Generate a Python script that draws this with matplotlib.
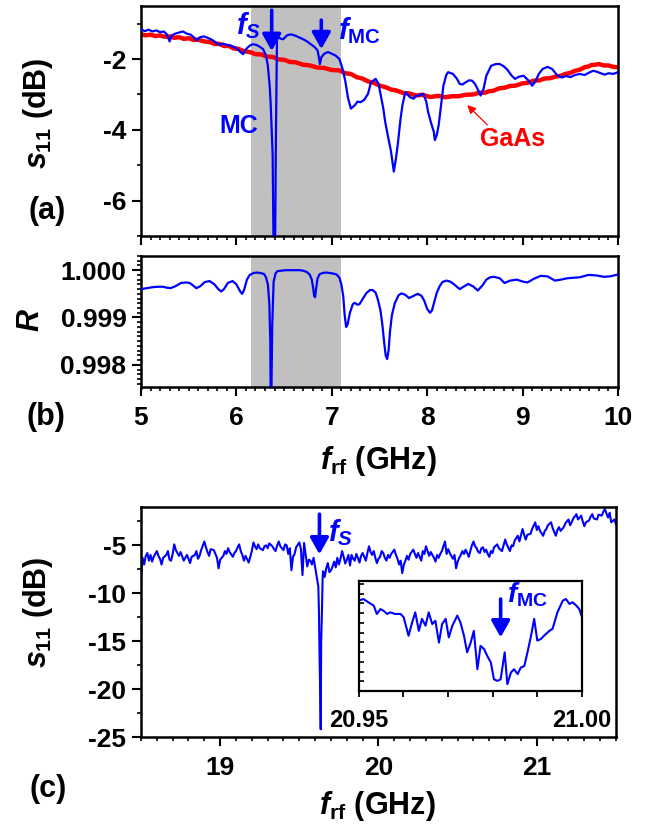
import matplotlib
matplotlib.use("Agg")
import matplotlib.pyplot as plt
from matplotlib.ticker import MultipleLocator, FixedLocator, FormatStrFormatter, NullFormatter

plt.rcParams['font.family'] = ['Liberation Sans', 'DejaVu Sans']
plt.rcParams['font.weight'] = 'bold'
plt.rcParams['axes.unicode_minus'] = False
plt.rcParams['mathtext.fontset'] = 'custom'
plt.rcParams['mathtext.rm'] = 'Liberation Sans:bold'
plt.rcParams['mathtext.bf'] = 'Liberation Sans:bold'
plt.rcParams['mathtext.it'] = 'Liberation Sans:italic:bold'
plt.rcParams['mathtext.sf'] = 'Liberation Sans:bold'

BLUE = '#0000FF'
RED = '#FF0000'
GRAY = '#C0C0C0'

# ---------------- data ----------------
# panel (a): s11 of the microcavity (MC) sample, 5-10 GHz
mc_s11 = [(5.00,-1.16),(5.04,-1.21),(5.08,-1.17),(5.12,-1.22),(5.16,-1.19),(5.20,-1.24),(5.24,-1.22),
          (5.27,-1.30),(5.30,-1.50),(5.32,-1.34),(5.36,-1.28),(5.40,-1.25),(5.44,-1.22),(5.48,-1.28),
          (5.52,-1.31),(5.56,-1.40),(5.58,-1.47),(5.62,-1.38),(5.66,-1.36),(5.70,-1.40),(5.74,-1.45),
          (5.78,-1.52),(5.82,-1.60),(5.86,-1.56),(5.90,-1.60),(5.94,-1.62),(5.98,-1.66),(6.02,-1.74),
          (6.05,-1.82),(6.07,-1.86),(6.10,-1.72),(6.14,-1.62),(6.17,-1.58),(6.21,-1.60),(6.25,-1.66),
          (6.28,-1.72),(6.31,-1.90),(6.33,-2.19),(6.35,-2.80),(6.36,-3.31),(6.37,-4.00),(6.38,-4.72),
          (6.385,-6.00),(6.39,-7.50),(6.405,-7.50),(6.415,-4.00),(6.425,-1.50),(6.43,-1.35),(6.46,-1.42),
          (6.49,-1.44),(6.53,-1.33),(6.57,-1.30),(6.61,-1.33),(6.65,-1.38),(6.70,-1.44),(6.74,-1.50),
          (6.78,-1.58),(6.82,-1.66),(6.85,-1.75),(6.865,-1.95),(6.875,-2.14),(6.89,-1.95),(6.92,-1.85),
          (6.96,-1.80),(7.00,-1.85),(7.04,-1.90),(7.08,-2.00),(7.11,-2.25),(7.14,-2.60),(7.17,-3.10),
          (7.20,-3.40),(7.24,-3.31),(7.27,-3.20),(7.30,-3.22),(7.34,-3.15),(7.38,-2.98),(7.41,-2.66),
          (7.46,-2.56),(7.49,-2.70),(7.51,-2.98),(7.54,-3.40),(7.56,-3.78),(7.59,-4.20),(7.62,-4.60),
          (7.65,-5.18),(7.67,-4.85),(7.69,-4.45),(7.72,-3.70),(7.74,-3.31),(7.77,-2.94),(7.80,-3.02),
          (7.82,-3.08),(7.86,-3.12),(7.88,-3.04),(7.91,-3.03),(7.96,-2.98),(7.99,-3.20),(8.01,-3.50),
          (8.04,-3.80),(8.07,-4.06),(8.08,-4.29),(8.10,-4.15),(8.12,-3.87),(8.15,-3.20),(8.17,-2.75),
          (8.20,-2.45),(8.22,-2.37),(8.27,-2.42),(8.31,-2.55),(8.34,-2.70),(8.37,-2.72),(8.40,-2.66),
          (8.44,-2.60),(8.47,-2.61),(8.50,-2.70),(8.52,-2.80),(8.56,-3.03),(8.59,-2.85),(8.62,-2.47),
          (8.67,-2.19),(8.72,-2.14),(8.76,-2.14),(8.80,-2.20),(8.84,-2.30),(8.88,-2.45),(8.92,-2.56),
          (8.96,-2.50),(9.01,-2.47),(9.06,-2.60),(9.10,-2.75),(9.13,-2.65),(9.17,-2.42),(9.21,-2.28),
          (9.26,-2.22),(9.31,-2.28),(9.36,-2.45),(9.41,-2.52),(9.46,-2.48),(9.50,-2.51),(9.55,-2.45),
          (9.60,-2.42),(9.65,-2.45),(9.70,-2.38),(9.74,-2.33),(9.78,-2.36),(9.82,-2.40),(9.86,-2.44),
          (9.90,-2.40),(9.95,-2.42),(10.00,-2.37)]

# panel (a): s11 of the bare GaAs reference
gaas_s11 = [(5.00,-1.30),(5.05,-1.33),(5.10,-1.31),(5.15,-1.35),(5.20,-1.33),(5.25,-1.37),(5.30,-1.36),
            (5.35,-1.40),(5.40,-1.38),(5.45,-1.43),(5.50,-1.41),(5.55,-1.46),(5.60,-1.45),(5.66,-1.50),
            (5.72,-1.52),(5.77,-1.57),(5.82,-1.57),(5.87,-1.63),(5.92,-1.63),(5.97,-1.70),(6.02,-1.71),
            (6.08,-1.78),(6.14,-1.80),(6.20,-1.86),(6.26,-1.87),(6.32,-1.93),(6.38,-1.94),(6.44,-2.01),
            (6.50,-2.02),(6.56,-2.08),(6.62,-2.09),(6.70,-2.16),(6.77,-2.18),(6.85,-2.24),(6.92,-2.25),
            (7.00,-2.31),(7.08,-2.32),(7.14,-2.40),(7.20,-2.42),(7.26,-2.51),(7.32,-2.55),(7.38,-2.63),
            (7.44,-2.67),(7.50,-2.75),(7.56,-2.79),(7.62,-2.86),(7.68,-2.89),(7.75,-2.96),(7.81,-2.97),
            (7.88,-3.03),(7.95,-3.01),(8.03,-3.07),(8.12,-3.04),(8.19,-3.08),(8.26,-3.05),(8.33,-3.05),
            (8.40,-3.01),(8.48,-3.00),(8.55,-2.95),(8.60,-2.95),(8.65,-2.91),(8.70,-2.89),(8.75,-2.83),
            (8.81,-2.81),(8.87,-2.76),(8.93,-2.75),(8.99,-2.69),(9.05,-2.67),(9.12,-2.61),(9.18,-2.60),
            (9.23,-2.55),(9.29,-2.54),(9.34,-2.50),(9.40,-2.47),(9.45,-2.42),(9.50,-2.39),(9.55,-2.33),
            (9.60,-2.30),(9.65,-2.23),(9.69,-2.21),(9.72,-2.17),(9.76,-2.16),(9.80,-2.14),(9.85,-2.18),
            (9.90,-2.18),(9.95,-2.22),(10.00,-2.23)]

# panel (b): reflectance R
refl = [(5.00,0.99960),(5.06,0.99962),(5.12,0.99964),(5.18,0.99965),(5.23,0.99965),(5.27,0.99963),
        (5.31,0.99962),(5.36,0.99966),(5.42,0.99973),(5.47,0.99974),(5.51,0.99973),(5.55,0.99967),
        (5.58,0.99962),(5.62,0.99966),(5.67,0.99975),(5.72,0.99977),(5.77,0.99970),(5.81,0.99960),
        (5.84,0.99955),(5.87,0.99960),(5.91,0.99973),(5.96,0.99977),(6.00,0.99970),(6.04,0.99955),
        (6.06,0.99950),(6.08,0.99958),(6.11,0.99980),(6.14,0.99990),(6.18,0.99994),(6.21,0.99995),
        (6.25,0.99994),(6.29,0.99992),(6.31,0.99985),(6.33,0.99970),(6.345,0.99930),(6.355,0.99850),
        (6.36,0.99700),(6.365,0.99700),(6.375,0.99880),(6.39,0.99975),(6.41,0.99993),(6.43,0.99998),
        (6.47,0.99999),(6.52,1.00000),(6.56,1.00000),(6.61,1.00000),(6.66,1.00000),(6.70,0.99999),
        (6.74,0.99996),(6.77,0.99990),(6.79,0.99980),(6.805,0.99962),(6.815,0.99945),(6.825,0.99943),
        (6.835,0.99960),(6.85,0.99982),(6.87,0.99991),(6.90,0.99994),(6.94,0.99995),(6.98,0.99994),
        (7.01,0.99993),(7.05,0.99991),(7.08,0.99984),(7.10,0.99970),(7.12,0.99945),(7.135,0.99905),
        (7.15,0.99880),(7.165,0.99885),(7.19,0.99910),(7.22,0.99928),(7.24,0.99931),(7.27,0.99927),
        (7.29,0.99928),(7.32,0.99938),(7.36,0.99951),(7.40,0.99958),(7.43,0.99958),(7.46,0.99952),
        (7.48,0.99940),(7.51,0.99915),(7.53,0.99885),(7.55,0.99845),(7.565,0.99820),(7.58,0.99812),
        (7.595,0.99830),(7.61,0.99870),(7.63,0.99905),(7.66,0.99930),(7.70,0.99947),(7.73,0.99951),
        (7.77,0.99948),(7.81,0.99941),(7.85,0.99945),(7.90,0.99950),(7.94,0.99946),(7.97,0.99935),
        (8.00,0.99918),(8.03,0.99910),(8.05,0.99915),(8.07,0.99930),(8.10,0.99952),(8.13,0.99966),
        (8.16,0.99975),(8.20,0.99978),(8.24,0.99976),(8.27,0.99972),(8.31,0.99965),(8.34,0.99960),
        (8.38,0.99965),(8.43,0.99971),(8.48,0.99966),(8.53,0.99957),(8.58,0.99968),(8.62,0.99980),
        (8.66,0.99985),(8.70,0.99986),(8.76,0.99983),(8.81,0.99973),(8.87,0.99978),(8.94,0.99980),
        (9.00,0.99976),(9.05,0.99974),(9.12,0.99982),(9.19,0.99988),(9.26,0.99987),(9.34,0.99978),
        (9.40,0.99980),(9.47,0.99983),(9.53,0.99984),(9.60,0.99985),(9.69,0.99990),(9.77,0.99989),
        (9.85,0.99986),(9.92,0.99987),(10.00,0.99991)]

# panel (c): s11, 18.5-21.5 GHz
hf_s11 = [(18.50,-8.4),(18.51,-6.3),(18.52,-7.0),(18.53,-6.1),(18.54,-5.8),(18.55,-6.6),(18.56,-6.0),
          (18.57,-6.7),(18.58,-6.2),(18.60,-5.6),(18.61,-6.1),(18.62,-6.4),(18.63,-7.0),(18.64,-6.3),
          (18.66,-6.0),(18.67,-5.6),(18.68,-6.5),(18.69,-6.6),(18.70,-5.9),(18.71,-4.9),(18.72,-5.5),
          (18.73,-5.8),(18.74,-6.1),(18.75,-5.7),(18.77,-6.6),(18.78,-6.3),(18.79,-6.0),(18.80,-6.4),
          (18.81,-6.85),(18.82,-6.2),(18.84,-6.0),(18.85,-5.6),(18.86,-6.4),(18.87,-6.1),(18.88,-5.5),
          (18.90,-4.6),(18.91,-5.2),(18.92,-5.7),(18.93,-6.1),(18.94,-5.4),(18.96,-5.5),(18.97,-5.9),
          (18.98,-6.3),(18.99,-7.4),(19.00,-6.5),(19.02,-6.1),(19.03,-5.6),(19.04,-5.9),(19.05,-5.3),
          (19.06,-5.7),(19.08,-6.2),(19.09,-5.8),(19.10,-5.6),(19.11,-5.2),(19.12,-4.9),(19.13,-5.6),
          (19.14,-6.0),(19.15,-6.6),(19.16,-6.1),(19.18,-6.8),(19.19,-6.2),(19.20,-5.6),(19.21,-4.7),
          (19.22,-5.1),(19.23,-5.4),(19.24,-4.9),(19.25,-5.3),(19.27,-5.5),(19.28,-5.1),(19.29,-5.0),
          (19.30,-5.3),(19.31,-4.8),(19.33,-5.1),(19.34,-5.4),(19.35,-5.6),(19.36,-5.0),(19.37,-4.6),
          (19.38,-5.1),(19.40,-5.5),(19.41,-4.9),(19.42,-5.0),(19.43,-5.9),(19.44,-5.3),(19.45,-7.6),
          (19.46,-6.2),(19.47,-5.9),(19.48,-5.2),(19.50,-4.7),(19.51,-5.4),(19.52,-8.1),(19.53,-4.75),
          (19.54,-6.0),(19.55,-7.2),(19.56,-6.5),(19.57,-6.6),(19.58,-7.0),(19.59,-6.3),(19.60,-7.3),
          (19.61,-8.25),(19.620,-9.3),(19.624,-12.0),(19.628,-17.0),(19.632,-20.5),
          (19.635,-24.2),(19.638,-15.0),(19.642,-12.5),(19.647,-8.5),(19.65,-7.7),(19.66,-8.3),
          (19.67,-7.4),(19.68,-6.85),(19.69,-7.8),(19.70,-7.6),(19.71,-7.2),(19.72,-6.7),(19.73,-7.3),
          (19.74,-6.3),(19.75,-7.0),(19.76,-6.4),(19.77,-5.6),(19.78,-6.2),(19.79,-6.9),(19.80,-6.5),
          (19.81,-6.0),(19.82,-7.1),(19.83,-6.0),(19.84,-6.4),(19.85,-6.6),(19.86,-5.9),(19.87,-6.3),
          (19.88,-6.8),(19.89,-6.1),(19.90,-5.8),(19.91,-6.2),(19.92,-6.6),(19.93,-5.8),(19.94,-5.1),
          (19.95,-5.7),(19.96,-6.0),(19.97,-5.6),(19.98,-6.3),(19.99,-6.85),(20.00,-6.4),(20.01,-6.2),
          (20.02,-5.6),(20.03,-5.8),(20.04,-6.3),(20.05,-6.6),(20.06,-6.0),(20.07,-6.3),(20.08,-5.9),
          (20.10,-5.45),(20.11,-6.0),(20.12,-6.4),(20.13,-7.0),(20.14,-6.6),(20.15,-7.9),(20.16,-7.0),
          (20.17,-6.6),(20.18,-6.1),(20.19,-6.5),(20.20,-5.9),(20.22,-5.45),(20.23,-5.9),(20.24,-6.3),
          (20.25,-5.8),(20.26,-6.2),(20.27,-6.6),(20.28,-5.6),(20.29,-5.9),(20.30,-5.1),(20.31,-5.6),
          (20.32,-6.1),(20.33,-5.7),(20.34,-6.0),(20.35,-6.3),(20.36,-6.7),(20.37,-6.0),(20.38,-6.3),
          (20.39,-5.9),(20.40,-5.6),(20.41,-5.1),(20.42,-4.6),(20.43,-5.9),(20.44,-5.4),(20.45,-5.8),
          (20.46,-6.1),(20.47,-6.4),(20.48,-6.0),(20.49,-7.4),(20.50,-6.7),(20.51,-6.3),(20.52,-6.0),
          (20.53,-5.6),(20.54,-5.9),(20.55,-5.45),(20.56,-5.8),(20.57,-6.2),(20.58,-5.6),(20.59,-5.0),
          (20.60,-4.6),(20.61,-5.1),(20.62,-5.3),(20.63,-5.7),(20.64,-5.8),(20.65,-5.3),(20.66,-5.2),
          (20.67,-5.7),(20.68,-5.45),(20.69,-5.9),(20.70,-6.2),(20.71,-5.6),(20.72,-5.8),(20.73,-5.2),
          (20.75,-4.9),(20.76,-5.3),(20.78,-5.6),(20.79,-5.0),(20.80,-4.4),(20.81,-4.9),(20.83,-5.6),
          (20.84,-5.0),(20.85,-5.1),(20.86,-4.5),(20.88,-4.0),(20.89,-4.6),(20.91,-3.3),(20.92,-3.9),
          (20.93,-4.4),(20.94,-3.9),(20.96,-3.8),(20.97,-3.3),(20.99,-2.6),(21.00,-3.4),(21.01,-3.0),
          (21.02,-3.5),(21.04,-4.0),(21.05,-3.5),(21.06,-3.3),(21.07,-2.9),(21.09,-2.6),(21.10,-3.2),
          (21.12,-4.0),(21.13,-3.4),(21.14,-3.1),(21.15,-3.5),(21.17,-3.1),(21.18,-2.7),(21.20,-2.3),
          (21.21,-2.9),(21.22,-2.6),(21.23,-2.2),(21.25,-1.75),(21.26,-2.3),(21.28,-1.9),(21.29,-2.5),
          (21.30,-3.0),(21.31,-2.6),(21.33,-2.4),(21.34,-2.0),(21.35,-1.75),(21.36,-2.2),(21.38,-2.3),
          (21.39,-1.8),(21.41,-1.9),(21.42,-1.5),(21.43,-1.2),(21.44,-1.7),(21.45,-2.1),(21.46,-1.6),
          (21.47,-2.6),(21.49,-2.3),(21.50,-2.8)]

# inset: zoom 20.95-21.00 GHz
inset_s11 = [(20.9500,-5.62),(20.9511,-5.57),(20.9522,-5.67),(20.9534,-5.77),(20.9541,-6.03),
             (20.9549,-5.88),(20.9556,-5.93),(20.9564,-6.03),(20.9571,-5.98),(20.9582,-6.03),
             (20.9594,-6.03),(20.9601,-6.13),(20.9612,-6.70),(20.9620,-6.29),(20.9627,-5.98),
             (20.9635,-6.55),(20.9642,-6.18),(20.9650,-6.39),(20.9657,-5.98),(20.9665,-6.34),
             (20.9672,-6.24),(20.9680,-6.91),(20.9687,-6.34),(20.9695,-6.18),(20.9702,-6.75),
             (20.9710,-6.39),(20.9721,-6.08),(20.9728,-6.29),(20.9736,-6.70),(20.9743,-7.21),
             (20.9751,-6.91),(20.9758,-6.55),(20.9766,-7.73),(20.9773,-7.01),(20.9781,-7.11),
             (20.9788,-7.32),(20.9796,-7.52),(20.9803,-8.04),(20.9811,-8.09),(20.9818,-8.04),
             (20.9827,-7.21),(20.9833,-8.19),(20.9841,-7.83),(20.9848,-7.73),(20.9856,-7.88),
             (20.9863,-7.68),(20.9871,-7.63),(20.9878,-7.21),(20.9886,-6.70),(20.9893,-6.18),
             (20.9900,-6.85),(20.9908,-6.80),(20.9915,-6.70),(20.9927,-6.55),(20.9934,-6.49),
             (20.9945,-5.98),(20.9957,-5.62),(20.9964,-5.57),(20.9972,-5.72),(20.9979,-5.67),
             (20.9987,-5.77),(20.9994,-5.88),(21.0000,-6.13)]

shade_band = (6.15, 7.10)
fs_low, fmc_low = 6.37, 6.89
fs_high, fmc_high = 19.627, 20.9818

mc_f, mc_db = zip(*mc_s11)
ga_f, ga_db = zip(*gaas_s11)
r_f, r_val = zip(*refl)
hf_f, hf_db = zip(*hf_s11)
in_f, in_db = zip(*inset_s11)

# ---------------- figure ----------------
fig = plt.figure(figsize=(6.52, 8.30), dpi=100)
W, H = 652.0, 830.0
def box(l, t, r, b):
    return [l / W, 1 - b / H, (r - l) / W, (b - t) / H]

axA = fig.add_axes(box(141, 6, 618, 236))
axB = fig.add_axes(box(141, 256, 618, 387.5))
axC = fig.add_axes(box(141, 507, 616, 737))
axI = fig.add_axes(box(358.5, 580.5, 582, 691))

TICK_FS = 19
LAB_FS = 22

def style(ax, lw=1.8):
    for s in ax.spines.values():
        s.set_linewidth(lw)
    ax.tick_params(which='both', direction='out', top=False, right=False,
                   labelsize=TICK_FS, width=1.5, pad=4)
    ax.tick_params(which='major', length=6.5)
    ax.tick_params(which='minor', length=3.2, width=1.2)

for ax in (axA, axB, axC):
    style(ax)

# ---- (a)
axA.axvspan(*shade_band, color=GRAY, zorder=0, lw=0)
axA.plot(ga_f, ga_db, color=RED, lw=3.2, zorder=2)
axA.plot(mc_f, mc_db, color=BLUE, lw=1.6, zorder=3)
axA.set_xlim(5, 10)
axA.set_ylim(-7, -0.5)
axA.xaxis.set_major_locator(MultipleLocator(1))
axA.xaxis.set_minor_locator(MultipleLocator(0.1))
axA.xaxis.set_major_formatter(NullFormatter())
axA.yaxis.set_major_locator(FixedLocator([-6, -4, -2]))
axA.yaxis.set_minor_locator(FixedLocator([-7, -5, -3, -1]))
axA.yaxis.set_major_formatter(FormatStrFormatter('%d'))

arr = dict(arrowstyle='-|>,head_length=0.5,head_width=0.28', color=BLUE, lw=2.6,
           mutation_scale=20, shrinkA=0, shrinkB=0)
axA.annotate('', xy=(fs_low, -1.77), xytext=(fs_low, -0.62), arrowprops=arr, zorder=5)
axA.annotate('', xy=(fmc_low, -1.72), xytext=(fmc_low, -0.90), arrowprops=arr, zorder=5)
axA.text(6.26, -1.06, r'$\mathit{f}_{\mathit{S}}$', color=BLUE, fontsize=21,
         ha='right', va='center')
axA.text(7.06, -1.20, r'$\mathit{f}_{\mathrm{MC}}$', color=BLUE, fontsize=21,
         ha='left', va='center')
axA.text(6.02, -3.9, 'MC', color=BLUE, fontsize=18, ha='center', va='center')
axA.text(8.9, -4.27, 'GaAs', color=RED, fontsize=18, ha='center', va='center')
axA.annotate('', xy=(8.42, -3.30), xytext=(8.63, -3.86),
             arrowprops=dict(arrowstyle='-|>,head_length=0.5,head_width=0.25', color=RED,
                             lw=0.9, mutation_scale=10, shrinkA=0, shrinkB=0))

# ---- (b)
axB.axvspan(*shade_band, color=GRAY, zorder=0, lw=0)
axB.plot(r_f, r_val, color=BLUE, lw=1.6, zorder=3)
axB.set_xlim(5, 10)
axB.set_ylim(0.99752, 1.0003)
axB.xaxis.set_major_locator(MultipleLocator(1))
axB.xaxis.set_minor_locator(MultipleLocator(0.1))
axB.yaxis.set_major_locator(FixedLocator([0.998, 0.999, 1.000]))
axB.yaxis.set_minor_locator(MultipleLocator(0.0001))
axB.yaxis.set_major_formatter(FormatStrFormatter('%.3f'))
axB.tick_params(axis='x', pad=7)

# ---- (c)
axC.plot(hf_f, hf_db, color=BLUE, lw=1.5)
axC.set_xlim(18.5, 21.5)
axC.set_ylim(-25, -1)
axC.xaxis.set_major_locator(MultipleLocator(1))
axC.xaxis.set_minor_locator(MultipleLocator(0.1))
axC.yaxis.set_major_locator(MultipleLocator(5))
axC.yaxis.set_minor_locator(MultipleLocator(2.5))
axC.tick_params(axis='x', pad=7)
axC.annotate('', xy=(fs_high, -5.94), xytext=(fs_high, -1.75), arrowprops=arr)
axC.text(19.68, -3.7, r'$\mathit{f}_{\mathit{S}}$', color=BLUE, fontsize=21,
         ha='left', va='center')

# ---- inset
axI.plot(in_f, in_db, color=BLUE, lw=1.5)
axI.set_xlim(20.95, 21.00)
axI.set_ylim(-8.4, -5.0)
for s in axI.spines.values():
    s.set_linewidth(1.6)
axI.xaxis.set_major_locator(FixedLocator([20.95, 21.00]))
axI.xaxis.set_minor_locator(FixedLocator([20.96, 20.97, 20.98, 20.99]))
axI.xaxis.set_major_formatter(FormatStrFormatter('%.2f'))
axI.yaxis.set_major_locator(MultipleLocator(0.3))
axI.yaxis.set_major_formatter(NullFormatter())
axI.tick_params(axis='x', which='both', direction='out', length=4, width=1.3,
                labelsize=17, pad=9, top=False)
axI.tick_params(axis='y', which='both', direction='in', length=3.5, width=1.2,
                right=False)
axI.annotate('', xy=(fmc_high, -6.75), xytext=(fmc_high, -5.57), arrowprops=arr)
axI.text(20.9833, -5.45, r'$\mathit{f}_{\mathrm{MC}}$', color=BLUE, fontsize=20,
         ha='left', va='center')

# ---- labels
def ftext(x, y, s, **kw):
    fig.text(x / W, 1 - y / H, s, **kw)

ftext(38, 113, r'$\mathit{s}_{\mathrm{11}}$ (dB)', rotation=90, fontsize=LAB_FS,
      ha='center', va='center')
ftext(31, 320, r'$\mathit{R}$', rotation=90, fontsize=LAB_FS, ha='center', va='center')
ftext(38, 612, r'$\mathit{s}_{\mathrm{11}}$ (dB)', rotation=90, fontsize=LAB_FS,
      ha='center', va='center')
ftext(378, 461, r'$\mathit{f}_{\mathrm{rf}}$ (GHz)', fontsize=LAB_FS, ha='center', va='center')
ftext(377, 806, r'$\mathit{f}_{\mathrm{rf}}$ (GHz)', fontsize=LAB_FS, ha='center', va='center')
ftext(47, 211, '(a)', fontsize=LAB_FS, ha='center', va='center')
ftext(46, 417, '(b)', fontsize=LAB_FS, ha='center', va='center')
ftext(48, 789, '(c)', fontsize=LAB_FS, ha='center', va='center')

fig.savefig('out.png', dpi=100)
